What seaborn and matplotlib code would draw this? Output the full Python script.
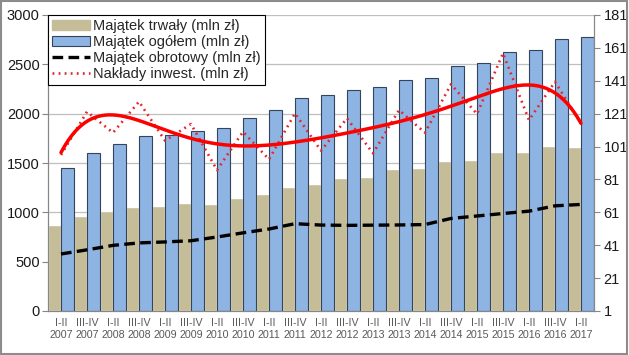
import numpy as np
import pandas as pd
import matplotlib
matplotlib.use('Agg')
import matplotlib.pyplot as plt
import matplotlib.patches as mpatches
import seaborn as sns

okresy = ['I-II\n2007', 'III-IV\n2007', 'I-II\n2008', 'III-IV\n2008', 'I-II\n2009', 'III-IV\n2009',
          'I-II\n2010', 'III-IV\n2010', 'I-II\n2011', 'III-IV\n2011', 'I-II\n2012', 'III-IV\n2012',
          'I-II\n2013', 'III-IV\n2013', 'I-II\n2014', 'III-IV\n2014', 'I-II\n2015', 'III-IV\n2015',
          'I-II\n2016', 'III-IV\n2016', 'I-II\n2017']
trwaly = [868, 959, 1010, 1054, 1061, 1091, 1081, 1141, 1182, 1253, 1283, 1344,
          1358, 1436, 1446, 1517, 1527, 1608, 1608, 1672, 1662]
ogolem = [1452, 1598, 1695, 1770, 1783, 1820, 1850, 1952, 2036, 2160, 2185, 2236,
          2266, 2340, 2361, 2479, 2509, 2620, 2644, 2759, 2773]
obrotowy = [578, 620, 665, 690, 700, 712, 750, 792, 831, 885, 871, 868,
            870, 872, 876, 938, 963, 988, 1012, 1066, 1080]
naklady = [95.9, 122.2, 109.4, 128.3, 104.6, 114.7, 86.7, 110.0, 93.2, 121.2, 98.5, 118.2,
           96.9, 123.2, 109.4, 138.9, 120.8, 157.7, 117.1, 140.4, 115.0]

lab_trwaly = 'Majątek trwały (mln zł)'
lab_ogolem = 'Majątek ogółem (mln zł)'
lab_obrot = 'Majątek obrotowy (mln zł)'
lab_naklady = 'Nakłady inwest. (mln zł)'

sns.set_style('white')
plt.rcParams['font.family'] = ['Liberation Sans', 'DejaVu Sans']

df = pd.DataFrame({'okres': okresy, lab_trwaly: trwaly, lab_ogolem: ogolem})
long = df.melt(id_vars='okres', var_name='seria', value_name='wartosc')

fig = plt.figure(figsize=(6.29, 3.55), dpi=100)
ax = fig.add_axes([48/629, 1-311/355, (594-48)/629, (311-15)/355])

sns.barplot(data=long, x='okres', y='wartosc', hue='seria', palette=['#C4BD97', '#8DB4E2'],
            width=1.0, gap=0, saturation=1, ax=ax, legend=False, zorder=2)
for p in ax.containers[1]:
    p.set_edgecolor('#34445c')
    p.set_linewidth(0.8)

x = np.arange(len(okresy))
sns.lineplot(x=x, y=obrotowy, ax=ax, color='black', lw=2.4, linestyle=(0, (3.2, 1.6)), zorder=4)

ax2 = ax.twinx()
sns.lineplot(x=x, y=naklady, ax=ax2, color='#E3262E', lw=1.9, linestyle=(0, (0.7, 1.6)), zorder=4)
# wielomianowa linia trendu dla nakładów
coef = np.polyfit(x, naklady, 6)
xs = np.linspace(0, len(okresy) - 1, 300)
sns.lineplot(x=xs, y=np.polyval(coef, xs), ax=ax2, color='#FF0000', lw=2.5, zorder=5)

ax.set_xlim(-0.5, len(okresy) - 0.5)
ax.set_ylim(0, 3000)
ax.set_yticks(range(0, 3001, 500))
ax2.set_ylim(1, 181)
ax2.set_yticks(range(1, 182, 20))
ax.set_xlabel('')
ax.set_ylabel('')
ax2.set_ylabel('')
ax.yaxis.grid(True, color='#BFBFBF', lw=0.9)
ax.set_axisbelow(True)

ax.set_xticks(x)
ax.set_xticklabels(okresy, fontsize=7.7, color='#595959', linespacing=1.2)
ax.set_xticks(np.arange(-0.5, len(okresy)), minor=True)
ax.tick_params(axis='x', which='major', length=0, pad=5)
ax.tick_params(axis='x', which='minor', length=4, color='#868686', width=0.8)
ax.tick_params(axis='y', labelsize=10.5, labelcolor='#1a1a1a', length=4, color='#868686', width=0.8, pad=2)
ax2.tick_params(axis='y', labelsize=10.5, labelcolor='#1a1a1a', length=4, color='#868686', width=0.8, pad=3)

for a in (ax, ax2):
    a.spines['top'].set_visible(False)
    for s in ('left', 'right', 'bottom'):
        a.spines[s].set_color('#868686')
        a.spines[s].set_linewidth(0.8)

handles = [mpatches.Patch(facecolor='#C4BD97', edgecolor='#C4BD97'),
           mpatches.Patch(facecolor='#8DB4E2', edgecolor='#34445c', lw=0.8),
           plt.Line2D([], [], color='black', lw=2.4, linestyle=(0, (3.2, 1.6))),
           plt.Line2D([], [], color='#E3262E', lw=1.9, linestyle=(0, (0.7, 1.6)))]
leg = ax2.legend(handles, [lab_trwaly, lab_ogolem, lab_obrot, lab_naklady], loc='upper left',
                 bbox_to_anchor=(0, 1), borderaxespad=0, frameon=True, fancybox=False,
                 edgecolor='black', fontsize=10.5, handlelength=2.6, handleheight=0.7,
                 handletextpad=0.2, labelspacing=0.12, borderpad=0.3, framealpha=1)
leg.get_frame().set_linewidth(0.8)
leg.set_zorder(10)

fig.add_artist(plt.Rectangle((0.002, 0.003), 0.995, 0.994, transform=fig.transFigure,
                             fill=False, ec='#8c8c8c', lw=1.5))

fig.savefig('out.png', dpi=100)
